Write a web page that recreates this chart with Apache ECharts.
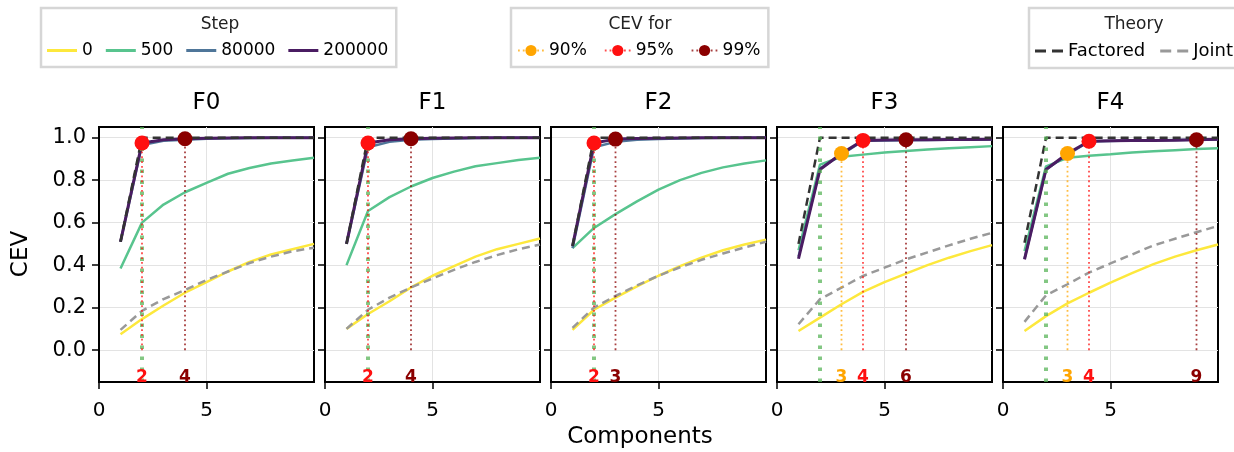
<!DOCTYPE html>
<html>
<head>
<meta charset="utf-8">
<script src="https://cdn.jsdelivr.net/npm/echarts@6/dist/echarts.min.js"></script>
<style>
  html, body { margin: 0; padding: 0; background: #fff; }
  #chart { width: 1234px; height: 452px; }
</style>
</head>
<body>
<div id="chart"></div>
<script>
// number of components on the x axis
var components = [1, 2, 3, 4, 5, 6, 7, 8, 9, 10];
var panels = ['F0', 'F1', 'F2', 'F3', 'F4'];
var steps = ['0', '500', '80000', '200000'];

// CEV curves per training step, one row per panel
var cevStep0 = [
  [0.075, 0.146, 0.21, 0.27, 0.32, 0.37, 0.415, 0.45, 0.475, 0.50],
  [0.10, 0.17, 0.23, 0.295, 0.35, 0.395, 0.44, 0.475, 0.50, 0.525],
  [0.095, 0.19, 0.247, 0.30, 0.35, 0.395, 0.435, 0.47, 0.497, 0.52],
  [0.09, 0.153, 0.216, 0.274, 0.32, 0.36, 0.40, 0.435, 0.466, 0.494],
  [0.09, 0.16, 0.22, 0.27, 0.318, 0.362, 0.405, 0.44, 0.47, 0.497]
];
var cevStep500 = [
  [0.384, 0.60, 0.685, 0.743, 0.787, 0.83, 0.857, 0.878, 0.892, 0.905],
  [0.40, 0.655, 0.72, 0.77, 0.81, 0.84, 0.865, 0.88, 0.895, 0.905],
  [0.48, 0.575, 0.64, 0.70, 0.755, 0.80, 0.834, 0.86, 0.878, 0.893],
  [0.47, 0.873, 0.91, 0.92, 0.93, 0.937, 0.944, 0.95, 0.955, 0.96],
  [0.466, 0.865, 0.905, 0.915, 0.922, 0.93, 0.936, 0.941, 0.946, 0.95]
];
var cevStep80000 = [
  [0.51, 0.965, 0.985, 0.99, 0.995, 0.997, 0.998, 0.999, 0.999, 1.0],
  [0.50, 0.955, 0.98, 0.99, 0.994, 0.996, 0.998, 0.999, 0.999, 1.0],
  [0.48, 0.955, 0.98, 0.99, 0.994, 0.996, 0.998, 0.999, 0.999, 1.0],
  [0.44, 0.855, 0.92, 0.985, 0.987, 0.988, 0.989, 0.99, 0.99, 0.991],
  [0.43, 0.85, 0.92, 0.982, 0.984, 0.986, 0.988, 0.989, 0.99, 0.991]
];
var cevStep200000 = [
  [0.51, 0.975, 0.99, 0.995, 0.997, 0.998, 0.999, 1.0, 1.0, 1.0],
  [0.50, 0.975, 0.99, 0.995, 0.997, 0.998, 0.999, 1.0, 1.0, 1.0],
  [0.49, 0.975, 0.993, 0.996, 0.997, 0.998, 0.999, 1.0, 1.0, 1.0],
  [0.43, 0.85, 0.925, 0.987, 0.989, 0.990, 0.990, 0.991, 0.991, 0.992],
  [0.427, 0.85, 0.925, 0.983, 0.985, 0.986, 0.987, 0.988, 0.990, 0.992]
];

// theory curves
var cevFactored = [
  [0.51, 1, 1, 1, 1, 1, 1, 1, 1, 1],
  [0.50, 1, 1, 1, 1, 1, 1, 1, 1, 1],
  [0.49, 1, 1, 1, 1, 1, 1, 1, 1, 1],
  [0.50, 1, 1, 1, 1, 1, 1, 1, 1, 1],
  [0.505, 1, 1, 1, 1, 1, 1, 1, 1, 1]
];
var cevJoint = [
  [0.095, 0.185, 0.24, 0.283, 0.33, 0.37, 0.41, 0.44, 0.465, 0.482],
  [0.10, 0.19, 0.247, 0.295, 0.337, 0.378, 0.415, 0.447, 0.475, 0.497],
  [0.105, 0.20, 0.255, 0.305, 0.35, 0.39, 0.425, 0.455, 0.483, 0.51],
  [0.122, 0.24, 0.294, 0.349, 0.388, 0.427, 0.46, 0.493, 0.524, 0.552],
  [0.133, 0.258, 0.31, 0.365, 0.408, 0.45, 0.493, 0.524, 0.555, 0.584]
];

// components needed to reach each CEV threshold (null = not marked)
var cev90 = [null, null, null, 3, 3];
var cev95 = [2, 2, 2, 4, 4];
var cev99 = [4, 4, 3, 6, 9];
var trueFactors = [2, 2, 2, 2, 2];

var yTicks = [0, 0.2, 0.4, 0.6, 0.8, 1.0];
var xTicks = [0, 5];

var stepColors = ['#fde83c', '#58c48e', '#4f7699', '#4a1c62'];
var thresholds = [
  { name: '90%', list: cev90, color: '#ffa500' },
  { name: '95%', list: cev95, color: '#ff1010' },
  { name: '99%', list: cev99, color: '#8b0000' }
];

var gridLeft = [99, 325, 551, 777, 1003];
var gridW = 215, gridTop = 127, gridH = 255;
var font = 'DejaVu Sans';

function pairs(row) {
  return components.map(function (c, i) { return [c, row[i]]; });
}

var grid = [], xAxis = [], yAxis = [], series = [], graphic = [];
var stepRows = [cevStep0, cevStep500, cevStep80000, cevStep200000];

panels.forEach(function (name, p) {
  grid.push({
    left: gridLeft[p], top: gridTop, width: gridW, height: gridH,
    show: true, borderColor: '#000', borderWidth: 2, containLabel: false
  });
  xAxis.push({
    type: 'value', gridIndex: p, min: 0, max: 10,
    axisLine: { show: true, onZero: false, lineStyle: { color: '#000', width: 2 } },
    axisTick: { show: true, length: 7, customValues: xTicks, lineStyle: { color: '#000', width: 1.5 } },
    axisLabel: { fontSize: 20, color: '#000', fontFamily: font, margin: 19, customValues: xTicks },
    splitLine: { show: true, lineStyle: { color: '#e3e3e3', width: 1 } }
  });
  yAxis.push({
    type: 'value', gridIndex: p, min: -0.15, max: 1.05,
    axisLine: { show: true, onZero: false, lineStyle: { color: '#000', width: 2 } },
    axisTick: { show: true, length: 7, customValues: yTicks, lineStyle: { color: '#000', width: 1.5 } },
    axisLabel: {
      show: p === 0, fontSize: 21, color: '#000', fontFamily: font, margin: 13,
      customValues: yTicks,
      formatter: function (v) { return v.toFixed(1); }
    },
    splitLine: { show: true, lineStyle: { color: '#e3e3e3', width: 1 } }
  });

  steps.forEach(function (s, k) {
    series.push({
      name: s, type: 'line', xAxisIndex: p, yAxisIndex: p,
      data: pairs(stepRows[k][p]), symbol: 'none', showSymbol: false,
      lineStyle: { color: stepColors[k], width: k === 3 ? 3 : 2.5 },
      itemStyle: { color: stepColors[k] }, z: 2
    });
  });

  series.push({
    name: 'Factored', type: 'line', xAxisIndex: p, yAxisIndex: p,
    data: pairs(cevFactored[p]), symbol: 'none',
    lineStyle: { color: '#333', width: 2.5, type: [8, 5] },
    itemStyle: { color: '#333' }, z: 3
  });
  series.push({
    name: 'Joint', type: 'line', xAxisIndex: p, yAxisIndex: p,
    data: pairs(cevJoint[p]), symbol: 'none',
    lineStyle: { color: '#999', width: 2.5, type: [8, 5] },
    itemStyle: { color: '#999' }, z: 3
  });

  thresholds.forEach(function (t) {
    var n = t.list[p];
    var data = [];
    if (n != null) {
      data = [
        {
          value: [n, 0], symbolSize: 1, itemStyle: { color: 'rgba(0,0,0,0)' },
          label: {
            show: true, formatter: String(n), position: 'bottom', distance: 18,
            color: t.color, fontWeight: 'bold', fontSize: 17, fontFamily: font
          }
        },
        { value: [n, cevStep200000[p][n - 1]] }
      ];
    }
    series.push({
      name: t.name, type: 'line', xAxisIndex: p, yAxisIndex: p,
      data: data, symbol: 'circle', symbolSize: 15, showSymbol: true,
      itemStyle: { color: t.color },
      lineStyle: { color: t.color, width: 1.8, type: [1.8, 3], opacity: 0.75 },
      z: 5
    });
  });

  // true number of factors
  series.push({
    type: 'line', xAxisIndex: p, yAxisIndex: p, data: [], silent: true,
    markLine: {
      silent: true, symbol: ['none', 'none'], label: { show: false },
      lineStyle: { color: 'rgba(90,180,90,0.75)', width: 4, type: [3.5, 7.5] },
      data: [{ xAxis: trueFactors[p] }]
    },
    z: 4
  });

  graphic.push({
    type: 'text', x: gridLeft[p] + gridW / 2, y: 103, z: 100,
    style: { text: name, font: '23px DejaVu Sans', fill: '#000', textAlign: 'center', textVerticalAlign: 'middle' }
  });
});

graphic.push({
  type: 'text', x: 640, y: 437, z: 100,
  style: { text: 'Components', font: '23px DejaVu Sans', fill: '#000', textAlign: 'center', textVerticalAlign: 'middle' }
});
graphic.push({
  type: 'text', x: 21, y: 254, rotation: Math.PI / 2, z: 100,
  style: { text: 'CEV', font: '23px DejaVu Sans', fill: '#000', textAlign: 'center', textVerticalAlign: 'middle' }
});
[['Step', 220], ['CEV for', 640], ['Theory', 1134]].forEach(function (t) {
  graphic.push({
    type: 'text', x: t[1], y: 25, z: 100,
    style: { text: t[0], font: '17px DejaVu Sans', fill: '#222', textAlign: 'center', textVerticalAlign: 'middle' }
  });
});

var legendBase = {
  top: 8, orient: 'horizontal', borderColor: '#d6d6d6', borderWidth: 2.5, borderRadius: 0,
  backgroundColor: 'rgba(255,255,255,0)', itemWidth: 30, itemHeight: 3, itemGap: 13,
  padding: [34, 8, 8, 6],
  textStyle: { fontSize: 17, color: '#000', fontFamily: font }, selectedMode: false
};

var solidIcon = 'path://M0,0h30v3h-30z';
var dashedIcon = 'path://M0,0h11v3h-11z M17,0h11v3h-11z';

var chart = echarts.init(document.getElementById('chart'), null, { renderer: 'canvas' });
chart.setOption({
  animation: false,
  backgroundColor: '#fff',
  grid: grid,
  xAxis: xAxis,
  yAxis: yAxis,
  legend: [
    Object.assign({}, legendBase, {
      left: 41, icon: solidIcon,
      data: steps
    }),
    Object.assign({}, legendBase, {
      left: 511, itemWidth: 26, itemHeight: 14, itemGap: 17,
      data: ['90%', '95%', '99%']
    }),
    Object.assign({}, legendBase, {
      left: 1029, width: 300, itemWidth: 28, icon: dashedIcon, itemGap: 15,
      padding: [34, 20, 8, 6],
      textStyle: { fontSize: 18, color: '#000', fontFamily: font },
      data: ['Factored', 'Joint']
    })
  ],
  graphic: graphic,
  series: series
});
</script>
</body>
</html>
